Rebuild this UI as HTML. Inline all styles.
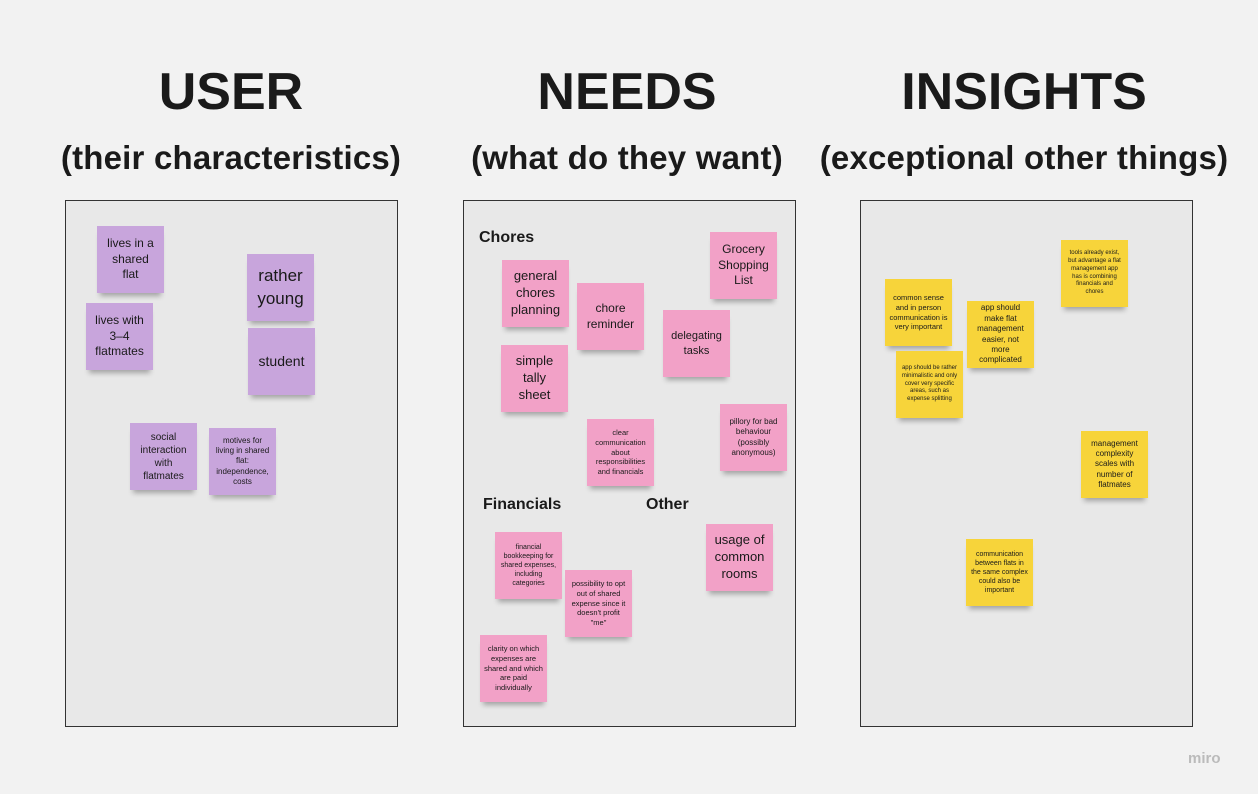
<!DOCTYPE html>
<html><head><meta charset="utf-8"><style>
body{margin:0;width:1258px;height:794px;background:#f2f2f2;position:relative;overflow:hidden;font-family:"Liberation Sans","DejaVu Sans",sans-serif;color:#1a1a1a}
.t{position:absolute;text-align:center;font-weight:bold;white-space:nowrap}
.h{font-size:52px;top:62px;width:400px}
.s{font-size:33px;top:139px;width:440px;letter-spacing:0.2px}
.p{position:absolute;top:200px;height:527px;background:#e8e8e8;border:1px solid #333;box-sizing:border-box}
.n{position:absolute;width:67px;height:67px;display:flex;align-items:center;justify-content:center;text-align:center;box-sizing:border-box;padding:3px 7px;line-height:1.3;box-shadow:0 6px 5px -3px rgba(0,0,0,.3)}
.u{background:#c8a5dc}.k{background:#f2a1c7}.y{background:#f7d43a}
.l{position:absolute;font-weight:bold;font-size:16px}
</style></head><body>
<div class="t h" style="left:31px">USER</div>
<div class="t h" style="left:427px">NEEDS</div>
<div class="t h" style="left:824px">INSIGHTS</div>
<div class="t s" style="left:11px">(their characteristics)</div>
<div class="t s" style="left:407px">(what do they want)</div>
<div class="t s" style="left:804px">(exceptional other things)</div>
<div class="p" style="left:65px;width:333px"></div>
<div class="p" style="left:463px;width:333px"></div>
<div class="p" style="left:860px;width:333px"></div>

<div class="n u" style="left:97px;top:226px;font-size:12px">lives in a shared flat</div>
<div class="n u" style="left:247px;top:254px;font-size:17px;padding:3px">rather young</div>
<div class="n u" style="left:86px;top:303px;font-size:12px">lives with 3–4 flatmates</div>
<div class="n u" style="left:248px;top:328px;font-size:14px;padding:3px">student</div>
<div class="n u" style="left:130px;top:423px;font-size:10px">social interaction with flatmates</div>
<div class="n u" style="left:209px;top:428px;font-size:8px;padding:3px 5px">motives for living in shared flat: independence, costs</div>

<div class="l" style="left:479px;top:229px">Chores</div>
<div class="l" style="left:483px;top:496px">Financials</div>
<div class="l" style="left:646px;top:496px">Other</div>
<div class="n k" style="left:502px;top:260px;font-size:13px;padding:3px 5px">general chores planning</div>
<div class="n k" style="left:577px;top:283px;font-size:12px">chore reminder</div>
<div class="n k" style="left:710px;top:232px;font-size:12px;padding:3px 4px">Grocery Shopping List</div>
<div class="n k" style="left:663px;top:310px;font-size:11px;padding:3px 4px">delegating tasks</div>
<div class="n k" style="left:501px;top:345px;font-size:13px;padding:3px 12px">simple tally sheet</div>
<div class="n k" style="left:587px;top:419px;font-size:7.5px;padding:3px 4px">clear communication about responsibilities and financials</div>
<div class="n k" style="left:720px;top:404px;font-size:8px;padding:3px 6px">pillory for bad behaviour (possibly anonymous)</div>
<div class="n k" style="left:495px;top:532px;font-size:7px;padding:3px 5px">financial bookkeeping for shared expenses, including categories</div>
<div class="n k" style="left:565px;top:570px;font-size:7.5px;padding:3px 4px">possibility to opt out of shared expense since it doesn't profit "me"</div>
<div class="n k" style="left:706px;top:524px;font-size:13px;padding:3px 4px">usage of common rooms</div>
<div class="n k" style="left:480px;top:635px;font-size:7.5px;padding:3px 4px">clarity on which expenses are shared and which are paid individually</div>

<div class="n y" style="left:885px;top:279px;font-size:7.5px;padding:3px 4px">common sense and in person communication is very important</div>
<div class="n y" style="left:967px;top:301px;font-size:8px">app should make flat management easier, not more complicated</div>
<div class="n y" style="left:1061px;top:240px;font-size:6px;padding:3px 6px">tools already exist, but advantage a flat management app has is combining financials and chores</div>
<div class="n y" style="left:896px;top:351px;font-size:6px;padding:3px 4px">app should be rather minimalistic and only cover very specific areas, such as expense splitting</div>
<div class="n y" style="left:1081px;top:431px;font-size:8px;padding:3px 6px">management complexity scales with number of flatmates</div>
<div class="n y" style="left:966px;top:539px;font-size:7px;padding:3px 5px">communication between flats in the same complex could also be important</div>
<div style="position:absolute;left:1188px;top:750px;font-size:15px;color:#bbb;font-weight:bold">miro</div>
</body></html>
